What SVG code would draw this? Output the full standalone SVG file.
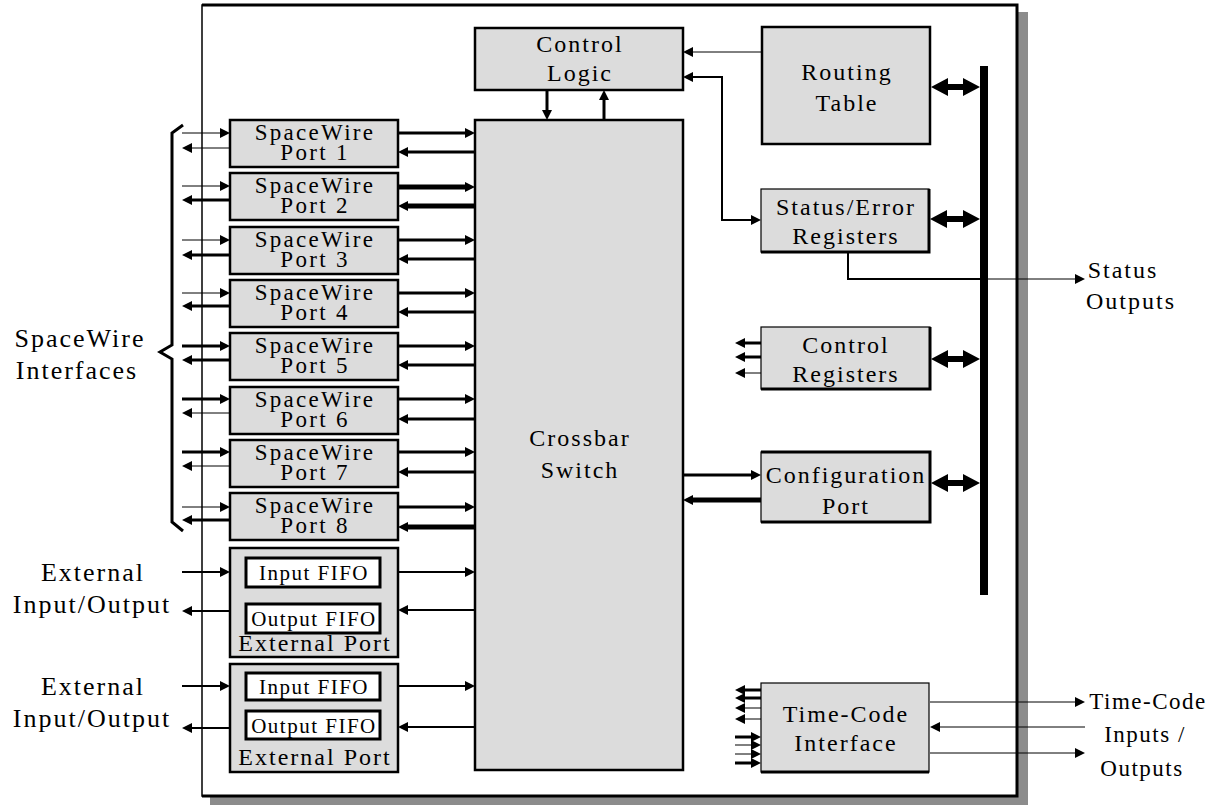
<svg xmlns="http://www.w3.org/2000/svg" width="1212" height="805" viewBox="0 0 1212 805">
<style>
.box{fill:#dcdcdc;stroke:#000;stroke-width:2.5}
.tb{fill:#dcdcdc;stroke:#000;stroke-width:1.2}
.edge{fill:none;stroke:#000;stroke-width:3}
.fifo{fill:#fff;stroke:#000;stroke-width:3}
text{font-family:"Liberation Serif","Times New Roman",serif;font-size:24px;letter-spacing:2px;text-anchor:middle;fill:#000}
.pt{font-size:23px;letter-spacing:2.3px}
.big{font-size:26px;letter-spacing:2px}
.sm{font-size:21px;letter-spacing:1.5px}
.tc{font-size:23px;letter-spacing:1.5px}
.c{fill:none;stroke:#000}
.w1{stroke-width:1}
.w2{stroke-width:2}
.w3{stroke-width:3}
.w5{stroke-width:5}
.a{marker-end:url(#ah)}
.aa{marker-start:url(#ah);marker-end:url(#ah)}
</style>
<defs>
<marker id="ah" markerUnits="userSpaceOnUse" markerWidth="10" markerHeight="10" viewBox="0 0 10 10" refX="0" refY="5" orient="auto-start-reverse"><path d="M0,0L10,5L0,10z" fill="#000"/></marker>
</defs>
<rect x="0" y="0" width="1212" height="805" fill="#fff"/>
<g id="frame">
<rect x="210" y="12" width="818" height="793" fill="#8c8c8c"/>
<rect x="202" y="5" width="815" height="791" fill="#fff" stroke="#000" stroke-width="1.5"/>
<path d="M202,5L1017,5L1017,796L202,796" class="edge"/>
</g>
<g id="crossbar"><rect class="box" x="475" y="120" width="208" height="650" stroke-width="3"/><text x="580" y="446">Crossbar</text><text x="580" y="478">Switch</text></g>
<g id="control-logic"><rect class="box" x="475" y="28" width="208" height="62" stroke-width="3"/><text x="580" y="52">Control</text><text x="580" y="81">Logic</text></g>
<g id="routing-table"><rect class="box" x="762" y="27" width="168" height="117" stroke-width="3"/><text x="847" y="80">Routing</text><text x="847" y="111">Table</text></g>
<g id="status-error"><rect class="tb" x="761" y="189" width="168" height="63"/><path class="edge" d="M929,189L929,252L761,252"/><text x="846" y="215">Status/Error</text><text x="846" y="244">Registers</text></g>
<g id="control-registers"><rect class="tb" x="761" y="327" width="169" height="62"/><path class="edge" d="M930,327L930,389L761,389"/><text x="846" y="353">Control</text><text x="846" y="382">Registers</text></g>
<g id="configuration-port"><rect class="tb" x="761" y="452" width="169" height="70"/><path class="edge" d="M761,452L930,452L930,522L761,522"/><text x="846" y="483">Configuration</text><text x="846" y="514">Port</text></g>
<g id="time-code-interface"><rect class="tb" x="761" y="683" width="168" height="89"/><path class="edge" d="M929,772L761,772"/><text x="846" y="722">Time-Code</text><text x="846" y="751">Interface</text></g>
<g id="bus"><rect x="980" y="66" width="8" height="529" fill="#000"/></g>
<g id="port1"><rect class="box" x="230" y="120" width="168" height="47"/><text class="pt" x="315" y="140">SpaceWire</text><text class="pt" x="315" y="160">Port 1</text></g>
<g id="port2"><rect class="box" x="230" y="173" width="168" height="47"/><text class="pt" x="315" y="193">SpaceWire</text><text class="pt" x="315" y="213">Port 2</text></g>
<g id="port3"><rect class="box" x="230" y="227" width="168" height="47"/><text class="pt" x="315" y="247">SpaceWire</text><text class="pt" x="315" y="267">Port 3</text></g>
<g id="port4"><rect class="box" x="230" y="280" width="168" height="47"/><text class="pt" x="315" y="300">SpaceWire</text><text class="pt" x="315" y="320">Port 4</text></g>
<g id="port5"><rect class="box" x="230" y="333" width="168" height="47"/><text class="pt" x="315" y="353">SpaceWire</text><text class="pt" x="315" y="373">Port 5</text></g>
<g id="port6"><rect class="box" x="230" y="387" width="168" height="47"/><text class="pt" x="315" y="407">SpaceWire</text><text class="pt" x="315" y="427">Port 6</text></g>
<g id="port7"><rect class="box" x="230" y="440" width="168" height="47"/><text class="pt" x="315" y="460">SpaceWire</text><text class="pt" x="315" y="480">Port 7</text></g>
<g id="port8"><rect class="box" x="230" y="493" width="168" height="47"/><text class="pt" x="315" y="513">SpaceWire</text><text class="pt" x="315" y="533">Port 8</text></g>
<g id="external-port1"><rect class="box" x="230" y="548" width="168" height="109" stroke-width="3"/><rect class="fifo" x="246" y="558" width="134" height="29"/><rect class="fifo" x="246" y="604" width="134" height="29"/><text class="sm" x="314" y="580">Input FIFO</text><text class="sm" x="314" y="626">Output FIFO</text><text x="315" y="651">External Port</text></g>
<g id="external-port2"><rect class="box" x="230" y="664" width="168" height="108" stroke-width="3"/><rect class="fifo" x="246" y="673" width="134" height="27"/><rect class="fifo" x="246" y="711" width="134" height="28"/><text class="sm" x="314" y="694">Input FIFO</text><text class="sm" x="314" y="733">Output FIFO</text><text x="315" y="765">External Port</text></g>
<g id="labels">
<text class="big" x="80" y="347">SpaceWire</text><text class="big" x="77" y="379">Interfaces</text>
<text class="big" x="93" y="581">External</text><text class="big" x="92" y="613">Input/Output</text>
<text class="big" x="93" y="695">External</text><text class="big" x="92" y="727">Input/Output</text>
<text x="1123" y="278">Status</text><text x="1131" y="309">Outputs</text>
<text class="tc" x="1148" y="709">Time-Code</text><text class="tc" x="1145" y="742">Inputs /</text><text class="tc" x="1142" y="776">Outputs</text>
</g>
<g id="connectors">
<path class="c w3" d="M183,125L172,133L172,345L160,352L172,359L172,522L183,531"/>
<path class="c w1 a" d="M182,133H220"/><path class="c w1 a" d="M230,148H192"/>
<path class="c w3 a" d="M398,133H465"/><path class="c w3 a" d="M475,152H408"/>
<path class="c w1 a" d="M182,186H220"/><path class="c w3 a" d="M230,200H192"/>
<path class="c w5 a" d="M398,187H465"/><path class="c w5 a" d="M475,206H408"/>
<path class="c w1 a" d="M182,240H220"/><path class="c w3 a" d="M230,255H192"/>
<path class="c w3 a" d="M398,240H465"/><path class="c w3 a" d="M475,259H408"/>
<path class="c w1 a" d="M182,293H220"/><path class="c w3 a" d="M230,306H192"/>
<path class="c w3 a" d="M398,293H465"/><path class="c w3 a" d="M475,312H408"/>
<path class="c w3 a" d="M182,346H220"/><path class="c w3 a" d="M230,360H192"/>
<path class="c w3 a" d="M398,346H465"/><path class="c w3 a" d="M475,365H408"/>
<path class="c w3 a" d="M182,399H220"/><path class="c w1 a" d="M230,413H192"/>
<path class="c w3 a" d="M398,399H465"/><path class="c w3 a" d="M475,419H408"/>
<path class="c w3 a" d="M182,452H220"/><path class="c w1 a" d="M230,466H192"/>
<path class="c w3 a" d="M398,452H465"/><path class="c w3 a" d="M475,472H408"/>
<path class="c w1 a" d="M182,507H220"/><path class="c w3 a" d="M230,520H192"/>
<path class="c w3 a" d="M398,507H465"/><path class="c w5 a" d="M475,527H408"/>
<path class="c w2 a" d="M182,572H220"/><path class="c w2 a" d="M230,611H192"/>
<path class="c w2 a" d="M398,572H465"/><path class="c w2 a" d="M475,610H408"/>
<path class="c w2 a" d="M182,686H220"/><path class="c w2 a" d="M230,728H192"/>
<path class="c w2 a" d="M398,686H465"/><path class="c w2 a" d="M475,727H408"/>
<path class="c w3 a" d="M547,90V110"/><path class="c w3 a" d="M604,120V100"/>
<path class="c w1 a" d="M762,52H693"/>
<path class="c w2 aa" d="M693,77H722V220H751"/>
<path class="c w2" d="M848,252V279H985"/><path class="c w1 a" d="M985,279H1075"/>
<path class="c w3 a" d="M761,343H745"/><path class="c w3 a" d="M761,357H745"/><path class="c w1 a" d="M761,373H745"/>
<path class="c w3 a" d="M683,475H751"/><path class="c w5 a" d="M761,500H693"/>
<path class="c w3 a" d="M761,690H745"/><path class="c w3 a" d="M761,698H745"/><path class="c w1 a" d="M761,708H745"/><path class="c w1 a" d="M761,719H745"/>
<path class="c w3 a" d="M735,737H751"/><path class="c w1 a" d="M735,745H751"/><path class="c w1 a" d="M735,754H751"/><path class="c w3 a" d="M735,763H751"/>
<path class="c w1 a" d="M930,702H1075"/><path class="c w1 a" d="M1085,727H940"/><path class="c w1 a" d="M930,753H1075"/>
<polygon points="931,87 948,78 948,84 963,84 963,78 980,87 963,96 963,90 948,90 948,96"/>
<polygon points="930,219 947,210 947,216 963,216 963,210 980,219 963,228 963,222 947,222 947,228"/>
<polygon points="931,359 948,350 948,356 963,356 963,350 980,359 963,368 963,362 948,362 948,368"/>
<polygon points="931,483 948,474 948,480 963,480 963,474 980,483 963,492 963,486 948,486 948,492"/>
</g>
</svg>
